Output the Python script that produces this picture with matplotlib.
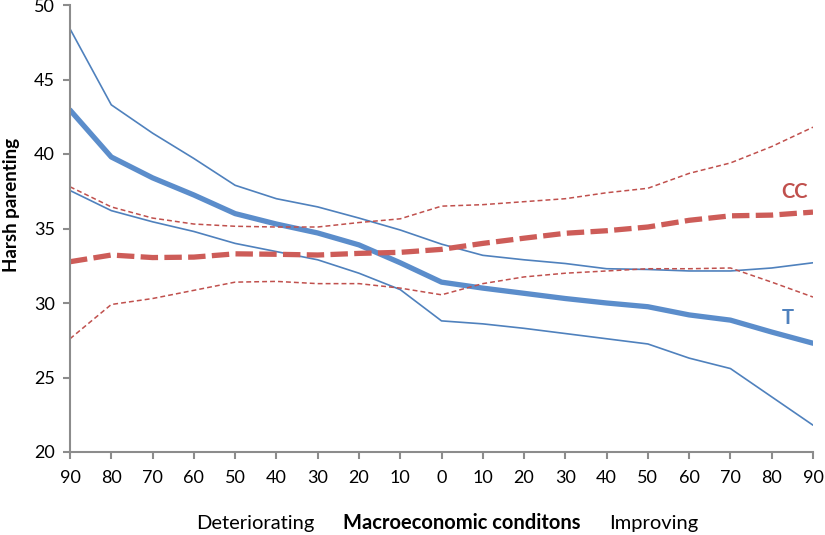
import matplotlib
matplotlib.use("Agg")
import matplotlib.pyplot as plt

categories = ["90", "80", "70", "60", "50", "40", "30", "20", "10", "0",
              "10", "20", "30", "40", "50", "60", "70", "80", "90"]

t_mean = [42.95, 39.8, 38.4, 37.25, 36.0, 35.3, 34.7, 33.9, 32.7, 31.4,
          31.0, 30.65, 30.3, 30.0, 29.75, 29.2, 28.85, 28.05, 27.3]
t_upper = [48.4, 43.3, 41.4, 39.7, 37.9, 37.0, 36.45, 35.7, 34.9, 33.95,
           33.2, 32.9, 32.65, 32.3, 32.25, 32.15, 32.15, 32.35, 32.7]
t_lower = [37.55, 36.2, 35.45, 34.8, 34.0, 33.45, 32.9, 32.0, 30.9, 28.8,
           28.6, 28.3, 27.95, 27.6, 27.25, 26.3, 25.6, 23.7, 21.8]
cc_mean = [32.77, 33.22, 33.05, 33.08, 33.3, 33.27, 33.22, 33.33, 33.4, 33.6,
           34.0, 34.35, 34.68, 34.85, 35.1, 35.55, 35.85, 35.9, 36.1]
cc_upper = [37.8, 36.45, 35.7, 35.3, 35.15, 35.1, 35.1, 35.4, 35.65, 36.5,
            36.6, 36.8, 37.0, 37.4, 37.7, 38.7, 39.4, 40.5, 41.8]
cc_lower = [27.6, 29.9, 30.3, 30.85, 31.4, 31.45, 31.3, 31.3, 31.0, 30.55,
            31.3, 31.75, 32.0, 32.15, 32.3, 32.3, 32.35, 31.4, 30.4]

yticks = [20, 25, 30, 35, 40, 45, 50]

plt.rcParams['font.family'] = ['Lato', 'DejaVu Sans']

fig = plt.figure(figsize=(8.25, 5.35), dpi=100)
ax = fig.add_axes([70/825, 1 - 452/535, (813 - 70)/825, (452 - 5)/535])

x = list(range(len(categories)))
blue_thin = '#4F81BD'
blue_thick = '#5B8DCB'
red_thin = '#C0504D'
red_thick = '#CD5C58'

ax.plot(x, t_upper, color=blue_thin, lw=1.2, solid_capstyle='round')
ax.plot(x, t_lower, color=blue_thin, lw=1.2, solid_capstyle='round')
ax.plot(x, t_mean, color=blue_thick, lw=3.8, solid_capstyle='round', solid_joinstyle='round')
ax.plot(x, cc_upper, color=red_thin, lw=1.1, dashes=(3.2, 2.0))
ax.plot(x, cc_lower, color=red_thin, lw=1.1, dashes=(3.2, 2.0))
ax.plot(x, cc_mean, color=red_thick, lw=3.8, dashes=(3.3, 1.2))

ax.text(17.55, 37.45, "CC", color='#C0504D', fontsize=14.5, fontweight='bold',
        ha='center', va='center')
ax.text(17.4, 29.0, "T", color='#4F81BD', fontsize=14.5, fontweight='bold',
        ha='center', va='center')

ax.set_xlim(0, len(categories) - 1)
ax.set_ylim(20, 50)
ax.set_xticks(x)
ax.set_xticklabels(categories, fontsize=13)
ax.set_yticks(yticks)
ax.set_yticklabels([str(v) for v in yticks], fontsize=13)

for s in ['top', 'right']:
    ax.spines[s].set_visible(False)
for s in ['left', 'bottom']:
    ax.spines[s].set_color('#8c8c8c')
    ax.spines[s].set_linewidth(1.5)
ax.tick_params(axis='both', colors='#8c8c8c', length=5, width=1.5, direction='out',
               labelcolor='black')
ax.tick_params(axis='x', pad=8)
ax.tick_params(axis='y', pad=6)

ax.set_ylabel("Harsh parenting", fontsize=13.5, fontweight='bold')
ax.yaxis.label.set_va('center')
ax.yaxis.set_label_coords((12 - 70)/743, (452 - 205)/447)

fig.text(255/825, 1 - 523/535, "Deteriorating", fontsize=14.5, ha='center', va='center')
fig.text(462/825, 1 - 523/535, "Macroeconomic conditons", fontsize=14.5,
         fontweight='bold', ha='center', va='center')
fig.text(654/825, 1 - 523/535, "Improving", fontsize=14.5, ha='center', va='center')

fig.savefig("out.png", dpi=100)
